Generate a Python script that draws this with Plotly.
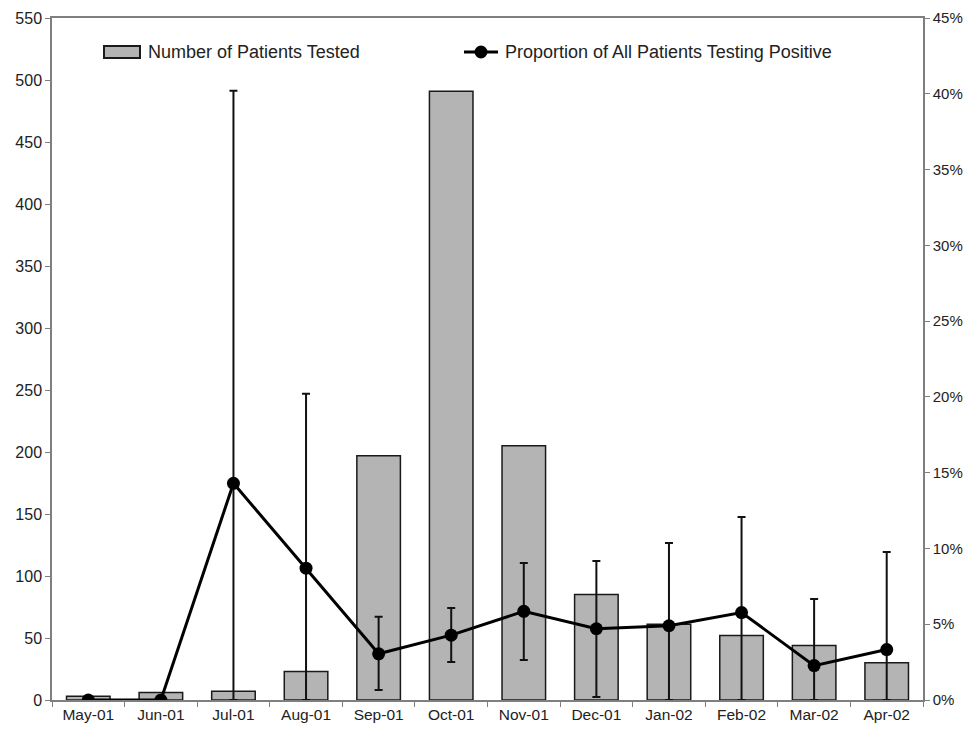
import plotly.graph_objects as go

months = ["May-01", "Jun-01", "Jul-01", "Aug-01", "Sep-01", "Oct-01",
          "Nov-01", "Dec-01", "Jan-02", "Feb-02", "Mar-02", "Apr-02"]
patients_tested = [3, 6, 7, 23, 197, 491, 205, 85, 61, 52, 44, 30]
proportion_positive = [0.0, 0.0, 14.3, 8.7, 3.05, 4.28, 5.85, 4.7, 4.9, 5.77, 2.27, 3.33]
ci_upper = [0.0, 0.0, 40.2, 20.2, 5.5, 6.07, 9.04, 9.17, 10.36, 12.07, 6.66, 9.76]
ci_lower = [0.0, 0.0, 0.0, 0.0, 0.66, 2.5, 2.64, 0.2, 0.0, 0.0, 0.0, 0.0]

left_ticks = list(range(0, 551, 50))
right_ticks = list(range(0, 46, 5))
right_tick_labels = [f"{v}%" for v in right_ticks]

err_plus = [u - p for u, p in zip(ci_upper, proportion_positive)]
err_minus = [p - l for p, l in zip(proportion_positive, ci_lower)]
err_plus[0] = err_plus[1] = 0
err_minus[0] = err_minus[1] = 0

AX = "#7f7f7f"
TXT = "#222222"
FONT = "Liberation Sans, Arial, sans-serif"

fig = go.Figure()
fig.add_trace(go.Bar(
    x=months, y=patients_tested, name="Number of Patients Tested",
    marker=dict(color="#b4b4b4", line=dict(color="#1a1a1a", width=1.5)),
    width=0.6, yaxis="y", showlegend=False))
fig.add_trace(go.Scatter(
    x=months, y=proportion_positive, name="Proportion of All Patients Testing Positive",
    mode="lines+markers", yaxis="y2",
    line=dict(color="black", width=3),
    marker=dict(color="black", size=13),
    error_y=dict(type="data", symmetric=False, array=err_plus, arrayminus=err_minus,
                 color="#111111", thickness=2, width=4),
    showlegend=False))

# page has an 8px body offset; compensate so the plot area lands where the reference has it
OFF = 8
W, H = 960, 734 - 2 * OFF
L, T = 52 - OFF, 18 - OFF
pw, ph = 871, 682
R, B = W - L - pw, H - T - ph

def px2paper(px, py):
    # px, py are target screen coordinates
    return (px - OFF - L) / pw, (T + ph - (py - OFF)) / ph

x0, y0 = px2paper(104, 46)
x1, y1 = px2paper(140, 58)
fig.add_shape(type="rect", xref="paper", yref="paper", x0=x0, y0=y1, x1=x1, y1=y0,
              fillcolor="#b4b4b4", line=dict(color="#1a1a1a", width=2))
tx, ty = px2paper(146, 52)
fig.add_annotation(xref="paper", yref="paper", x=tx, y=ty, xanchor="left", yanchor="middle",
                   text="Number of Patients Tested", showarrow=False,
                   font=dict(family=FONT, size=18, color=TXT))
lx0, ly = px2paper(464, 52)
lx1, _ = px2paper(498, 52)
fig.add_shape(type="line", xref="paper", yref="paper", x0=lx0, y0=ly, x1=lx1, y1=ly,
              line=dict(color="black", width=3))
cx, cy = px2paper(481, 52)
fig.add_shape(type="circle", xref="paper", yref="paper",
              x0=cx - 6.5 / pw, x1=cx + 6.5 / pw, y0=cy - 6.5 / ph, y1=cy + 6.5 / ph,
              fillcolor="black", line=dict(color="black", width=0))
tx2, _ = px2paper(503, 52)
fig.add_annotation(xref="paper", yref="paper", x=tx2, y=ty, xanchor="left", yanchor="middle",
                   text="Proportion of All Patients Testing Positive", showarrow=False,
                   font=dict(family=FONT, size=18, color=TXT))

fig.update_layout(
    width=W, height=H,
    margin=dict(l=L, r=R, t=T, b=B, autoexpand=False),
    plot_bgcolor="white", paper_bgcolor="white",
    font=dict(family=FONT, size=15, color=TXT),
    bargap=0.4,
    xaxis=dict(type="category", range=[-0.5, len(months) - 0.5], showline=True,
               linecolor=AX, linewidth=1.5, mirror=True, automargin=False,
               ticks="outside", tickson="boundaries", ticklen=5, tickcolor=AX,
               showgrid=False, tickfont=dict(size=15.5)),
    yaxis=dict(range=[0, 550], tickvals=left_ticks, showline=True, linecolor=AX,
               linewidth=1.5, ticks="outside", ticklen=5, tickcolor=AX, showgrid=False,
               zeroline=False, automargin=False, tickfont=dict(size=16)),
    yaxis2=dict(range=[0, 45], tickvals=right_ticks, ticktext=right_tick_labels,
                overlaying="y", side="right", showline=True, linecolor=AX, linewidth=1.5,
                ticks="outside", ticklen=5, tickcolor=AX, showgrid=False, zeroline=False,
                automargin=False, tickfont=dict(size=15)),
)

fig.write_html("out.html")
